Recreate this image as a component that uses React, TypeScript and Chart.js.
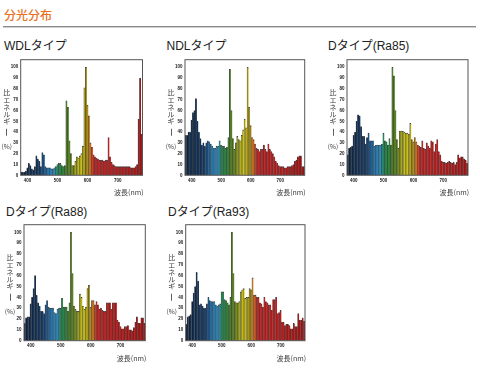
import React, { useEffect, useRef } from 'react';
import { Chart, registerables } from 'chart.js';

Chart.register(...registerables);

// ---- data ----
const WAVELENGTHS = [
  380, 385, 390, 395, 400, 405, 410, 415, 420, 425,
  430, 435, 440, 445, 450, 455, 460, 465, 470, 475,
  480, 485, 490, 495, 500, 505, 510, 515, 520, 525,
  530, 535, 540, 545, 550, 555, 560, 565, 570, 575,
  580, 585, 590, 595, 600, 605, 610, 615, 620, 625,
  630, 635, 640, 645, 650, 655, 660, 665, 670, 675,
  680, 685, 690, 695, 700, 705, 710, 715, 720, 725,
  730, 735, 740, 745, 750, 755, 760, 765, 770, 775,
  780,
];
const X_TICK_LABELS = [400, 500, 600, 700];
const Y_TICK_LABELS = [0, 10, 20, 30, 40, 50, 60, 70, 80, 90, 100];

const WDL = [
  3, 3, 3, 4, 7, 11, 9, 6, 5, 8,
  18, 15, 13, 8, 21, 19, 8, 7, 7, 7,
  6, 6, 7, 8, 10, 11, 11, 9, 8, 9,
  69, 63, 32, 20, 9, 9, 13, 17, 16, 18,
  20, 27, 81, 100, 65, 55, 30, 26, 19, 17,
  16, 15, 14, 14, 14, 13, 14, 14, 35, 17,
  12, 10, 9, 8, 8, 8, 8, 8, 8, 8,
  8, 8, 8, 7, 7, 7, 8, 10, 52, 90,
  38,
];
const NDL = [
  37, 37, 40, 40, 51, 58, 60, 71, 50, 40,
  34, 28, 30, 27, 30, 32, 31, 29, 27, 25,
  25, 27, 27, 32, 28, 27, 27, 25, 26, 35,
  98, 60, 34, 24, 30, 36, 33, 32, 37, 42,
  52, 44, 100, 63, 46, 35, 33, 29, 25, 24,
  22, 24, 24, 28, 24, 22, 29, 24, 22, 20,
  17, 13, 11, 9, 8, 8, 8, 7, 7, 8,
  8, 8, 9, 10, 13, 14, 17, 18, 18, 8,
  8,
];
const RA85 = [
  19, 25, 26, 27, 37, 40, 50, 56, 55, 45,
  36, 36, 29, 35, 39, 32, 32, 32, 27, 28,
  28, 28, 28, 29, 39, 32, 31, 28, 34, 28,
  100, 92, 60, 33, 25, 41, 41, 41, 40, 39,
  39, 38, 48, 33, 31, 35, 31, 28, 27, 26,
  32, 25, 24, 30, 27, 25, 32, 31, 22, 29,
  33, 22, 19, 13, 12, 12, 11, 12, 13, 12,
  11, 12, 10, 12, 19, 16, 17, 17, 15, 14,
  11,
];
const RA88 = [
  16, 21, 22, 22, 34, 40, 48, 60, 42, 35,
  32, 27, 27, 25, 33, 37, 31, 30, 30, 30,
  26, 25, 29, 30, 30, 39, 31, 31, 31, 27,
  35, 100, 62, 32, 29, 27, 27, 43, 40, 32,
  29, 31, 48, 51, 31, 37, 37, 33, 36, 33,
  29, 30, 28, 27, 27, 35, 35, 35, 29, 35,
  35, 35, 19, 17, 13, 11, 11, 13, 13, 14,
  10, 10, 9, 12, 17, 22, 16, 16, 21, 21,
  16,
];
const RA93 = [
  15, 22, 23, 24, 36, 44, 50, 63, 55, 33,
  34, 32, 30, 30, 34, 40, 37, 36, 36, 36,
  33, 32, 33, 34, 45, 45, 38, 37, 35, 33,
  40, 100, 62, 36, 35, 35, 36, 45, 47, 48,
  39, 40, 40, 48, 47, 58, 42, 42, 40, 40,
  35, 34, 31, 40, 36, 35, 33, 33, 28, 38,
  38, 40, 25, 26, 28, 17, 17, 14, 15, 15,
  14, 11, 11, 16, 13, 13, 25, 19, 19, 21,
  18,
];

const HEADER = '分光分布';
const PANEL_TITLES = ['WDLタイプ', 'NDLタイプ', 'Dタイプ(Ra85)', 'Dタイプ(Ra88)', 'Dタイプ(Ra93)'];
const Y_TITLE_CHARS = ['比', 'エ', 'ネ', 'ル', 'ギ', 'ー'];
const Y_TITLE_UNIT = '(%)';
const X_TITLE = '波長(nm)';

// ---- style ----
const SPECTRUM: [number, string][] = [
  [380, '#0b2140'],
  [440, '#0f3562'],
  [455, '#16548e'],
  [470, '#1f7bb8'],
  [490, '#2a8ec6'],
  [500, '#1e8a55'],
  [515, '#21883a'],
  [530, '#4a7d24'],
  [548, '#6c8a1a'],
  [560, '#a8a818'],
  [575, '#d6cc12'],
  [585, '#c8b810'],
  [595, '#a08e10'],
  [603, '#c88a16'],
  [610, '#d86a18'],
  [620, '#c82020'],
  [700, '#c01818'],
  [780, '#a81010'],
];

function hexToRgb(h: string) {
  const n = parseInt(h.slice(1), 16);
  return [(n >> 16) & 255, (n >> 8) & 255, n & 255];
}
function colorFor(nm: number) {
  for (let i = 0; i < SPECTRUM.length - 1; i++) {
    const [a, ca] = SPECTRUM[i];
    const [b, cb] = SPECTRUM[i + 1];
    if (nm >= a && nm <= b) {
      const t = (nm - a) / (b - a);
      const A = hexToRgb(ca);
      const B = hexToRgb(cb);
      const c = A.map((v, k) => Math.round(v + (B[k] - v) * t));
      return `rgb(${c[0]},${c[1]},${c[2]})`;
    }
  }
  return SPECTRUM[SPECTRUM.length - 1][1];
}

const TICK_FONT = {
  family: '"Liberation Sans Narrow", "Liberation Sans", Arial, sans-serif',
  size: 4.5,
  weight: 'bold' as const,
};
const JP_FONT = '"Noto Sans CJK JP", "Liberation Sans", sans-serif';
const Y_SCALE_W = 14;
const X_SCALE_H = 9;

type Box = { l: number; t: number; r: number; b: number };

const decorPlugin = {
  id: 'decor',
  afterDraw(chart: any) {
    const { ctx, chartArea } = chart;
    const { left, top, right, bottom } = chartArea;
    ctx.save();
    ctx.strokeStyle = '#555';
    ctx.lineWidth = 1;
    ctx.strokeRect(left, top, right - left, bottom - top);

    ctx.fillStyle = '#3a3a3a';
    ctx.textAlign = 'center';
    ctx.textBaseline = 'middle';
    ctx.font = `7px ${JP_FONT}`;
    const cx = left - 14;
    Y_TITLE_CHARS.forEach((ch, i) => {
      const y = top + 33 + i * 7.2;
      if (ch === 'ー') {
        ctx.save();
        ctx.translate(cx, y + 3.5);
        ctx.rotate(Math.PI / 2);
        ctx.font = `9px ${JP_FONT}`;
        ctx.fillText(ch, 0, 0);
        ctx.restore();
      } else {
        ctx.fillText(ch, cx, y);
      }
    });
    ctx.font = `6.5px ${JP_FONT}`;
    ctx.fillText(Y_TITLE_UNIT, cx, top + 86.5);

    ctx.textAlign = 'right';
    ctx.font = `7px ${JP_FONT}`;
    ctx.fillText(X_TITLE, right + 1, bottom + 17.5);
    ctx.restore();
  },
};

function Panel({ values, box }: { values: number[]; box: Box }) {
  const ref = useRef<HTMLCanvasElement | null>(null);
  const cl = Math.round(box.l) - 24;
  const ct = Math.round(box.t) - 6;
  const cw = Math.round(box.r - box.l) + 30;
  const ch = Math.round(box.b - box.t) + 32;

  useEffect(() => {
    if (!ref.current) return;
    const chart = new Chart(ref.current, {
      type: 'bar',
      data: {
        labels: WAVELENGTHS,
        datasets: [
          {
            data: values,
            backgroundColor: WAVELENGTHS.map(colorFor),
            borderColor: 'rgba(15,15,15,0.8)',
            borderWidth: { left: 0.55, top: 0.9, right: 0, bottom: 0 },
            borderSkipped: false,
            barPercentage: 1,
            categoryPercentage: 1,
          },
        ],
      },
      options: {
        responsive: false,
        animation: false,
        events: [],
        layout: {
          padding: {
            left: box.l - cl - Y_SCALE_W,
            top: box.t - ct,
            right: cl + cw - box.r,
            bottom: ct + ch - box.b - X_SCALE_H,
          },
        },
        plugins: { legend: { display: false }, tooltip: { enabled: false }, title: { display: false } },
        scales: {
          x: {
            type: 'category',
            grid: { display: false, drawTicks: false, tickLength: 0 },
            border: { display: false },
            ticks: {
              autoSkip: false,
              maxRotation: 0,
              minRotation: 0,
              padding: 2.5,
              color: '#222',
              font: TICK_FONT,
              callback: (_v: any, idx: number) =>
                X_TICK_LABELS.includes(WAVELENGTHS[idx]) ? String(WAVELENGTHS[idx]) : '',
            },
            afterFit: (s: any) => {
              s.height = X_SCALE_H;
            },
          },
          y: {
            min: 0,
            max: 107,
            grid: { display: false, drawTicks: false, tickLength: 0 },
            border: { display: false },
            afterBuildTicks: (s: any) => {
              s.ticks = Y_TICK_LABELS.map((v) => ({ value: v }));
            },
            ticks: {
              autoSkip: false,
              padding: 2.5,
              color: '#222',
              font: TICK_FONT,
            },
            afterFit: (s: any) => {
              s.width = Y_SCALE_W;
            },
          },
        },
      },
      plugins: [decorPlugin],
    } as any);
    return () => chart.destroy();
  }, [values, box.l, box.t, box.r, box.b]);

  return (
    <canvas
      ref={ref}
      width={cw}
      height={ch}
      style={{ position: 'absolute', left: cl, top: ct, width: cw, height: ch }}
    />
  );
}

const PANELS: { values: number[]; box: Box; tx: number; ty: number }[] = [
  { values: WDL, box: { l: 20.7, t: 59.7, r: 142.5, b: 175.3 }, tx: 4, ty: 46 },
  { values: NDL, box: { l: 185, t: 59.7, r: 304.7, b: 175.3 }, tx: 166.5, ty: 46 },
  { values: RA85, box: { l: 347, t: 59.7, r: 468, b: 175.3 }, tx: 328, ty: 46 },
  { values: RA88, box: { l: 24, t: 224.7, r: 145.3, b: 340.7 }, tx: 6, ty: 212 },
  { values: RA93, box: { l: 185.7, t: 224.7, r: 305, b: 340.7 }, tx: 168, ty: 212 },
];

export default function App() {
  return (
    <div
      style={{
        position: 'absolute',
        left: 0,
        top: 0,
        width: 480,
        height: 377,
        background: '#fff',
        overflow: 'hidden',
      }}
    >
      <div
        style={{
          position: 'absolute',
          left: 4,
          top: 7,
          fontFamily: JP_FONT,
          fontSize: 12,
          lineHeight: '16px',
          fontWeight: 500,
          color: '#e8711f',
          whiteSpace: 'nowrap',
        }}
      >
        {HEADER}
      </div>
      <div style={{ position: 'absolute', left: 3, top: 26, width: 473, height: 1, background: '#8a8a8a' }} />
      <div style={{ position: 'absolute', left: 3, top: 27, width: 473, height: 1, background: '#cfcfcf' }} />
      {PANELS.map((p, i) => (
        <React.Fragment key={i}>
          <div
            style={{
              position: 'absolute',
              left: p.tx,
              top: p.ty - 8,
              fontFamily: '"Liberation Sans", "Noto Sans CJK JP", sans-serif',
              fontSize: 12,
              lineHeight: '16px',
              color: '#222',
              whiteSpace: 'nowrap',
            }}
          >
            {PANEL_TITLES[i]}
          </div>
          <Panel values={p.values} box={p.box} />
        </React.Fragment>
      ))}
    </div>
  );
}
